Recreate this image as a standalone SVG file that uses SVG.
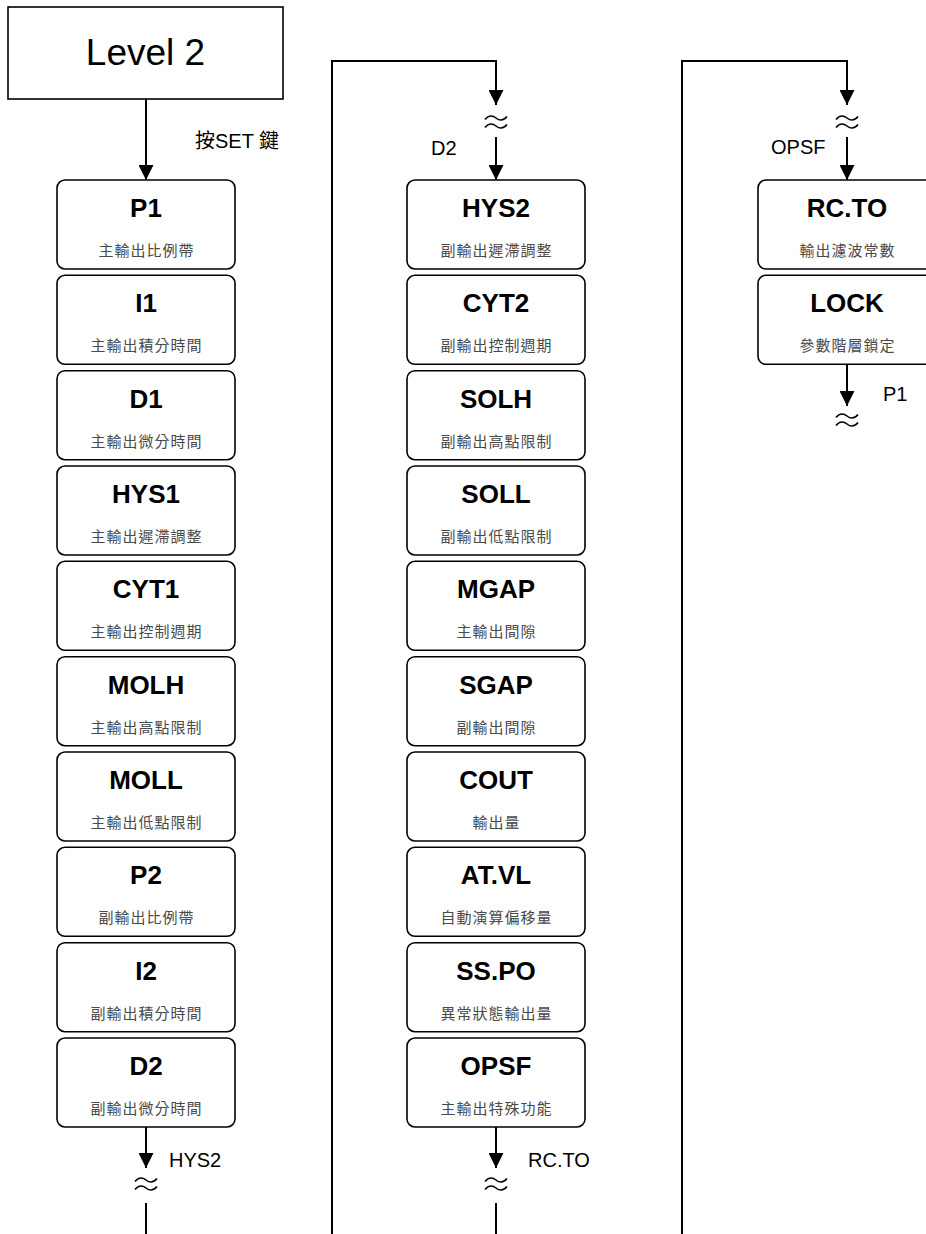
<svg xmlns="http://www.w3.org/2000/svg" width="926" height="1234" viewBox="0 0 926 1234">
<style>
.box{fill:#fff;stroke:#000;stroke-width:1.6}
.t{font-family:"Liberation Sans","Noto Sans CJK TC",sans-serif;font-weight:bold;font-size:26px;fill:#000;text-anchor:middle}
.s{font-family:"Noto Sans CJK TC","Liberation Sans",sans-serif;font-size:15px;letter-spacing:1px;fill:#4a4a4a;text-anchor:middle}
.lbl{font-family:"Liberation Sans","Noto Sans CJK TC",sans-serif;font-size:20px;fill:#000}
.ln{fill:none;stroke:#000;stroke-width:2}
.sq{fill:none;stroke:#000;stroke-width:1.6}
</style>
<defs>
<marker id="ah" markerUnits="userSpaceOnUse" markerWidth="15" markerHeight="15" refX="15" refY="7.5" orient="auto" viewBox="0 0 15 15">
<path d="M0,0 L15,7.5 L0,15 z" fill="#000"/>
</marker>
<path id="tl" d="M-11,1.5 C-7,-3.5 -3,-2.5 0,0 S7,3.5 11,-1.5"/>
</defs>

<g id="connectors">
<path class="ln" d="M146 99 V180" marker-end="url(#ah)"/>
<text class="lbl" x="195" y="148">按SET 鍵</text>

<path class="ln" d="M146 1127 V1168" marker-end="url(#ah)"/>
<use href="#tl" class="sq" x="146" y="1180"/>
<use href="#tl" class="sq" x="146" y="1188"/>
<path class="ln" d="M146 1203 V1234"/>
<text class="lbl" x="169" y="1167">HYS2</text>

<path class="ln" d="M332 1234 V61 H496 V105" marker-end="url(#ah)"/>
<use href="#tl" class="sq" x="496" y="118"/>
<use href="#tl" class="sq" x="496" y="126"/>
<path class="ln" d="M496 137 V180" marker-end="url(#ah)"/>
<text class="lbl" x="431" y="155">D2</text>

<path class="ln" d="M496 1127 V1168" marker-end="url(#ah)"/>
<use href="#tl" class="sq" x="496" y="1180"/>
<use href="#tl" class="sq" x="496" y="1188"/>
<path class="ln" d="M496 1203 V1234"/>
<text class="lbl" x="528" y="1167">RC.TO</text>

<path class="ln" d="M682 1234 V61 H847 V105" marker-end="url(#ah)"/>
<use href="#tl" class="sq" x="847" y="118"/>
<use href="#tl" class="sq" x="847" y="126"/>
<path class="ln" d="M847 137 V180" marker-end="url(#ah)"/>
<text class="lbl" x="771" y="154">OPSF</text>

<path class="ln" d="M847 364 V406" marker-end="url(#ah)"/>
<use href="#tl" class="sq" x="847" y="416"/>
<use href="#tl" class="sq" x="847" y="424"/>
<text class="lbl" x="883" y="401">P1</text>
</g>

<g id="level2">
<rect x="8" y="7" width="275" height="92" fill="#fff" stroke="#000" stroke-width="1.6"/>
<text x="145.5" y="65" font-family="Liberation Sans, sans-serif" font-size="37" text-anchor="middle">Level 2</text>
</g>

<g id="P1"><rect class="box" x="57" y="180" width="178" height="89" rx="8"/><text class="t" x="146" y="217">P1</text><text class="s" x="146.5" y="256">主輸出比例帶</text></g>
<g id="I1"><rect class="box" x="57" y="275.3" width="178" height="89" rx="8"/><text class="t" x="146" y="312.3">I1</text><text class="s" x="146.5" y="351.3">主輸出積分時間</text></g>
<g id="D1"><rect class="box" x="57" y="370.7" width="178" height="89" rx="8"/><text class="t" x="146" y="407.7">D1</text><text class="s" x="146.5" y="446.7">主輸出微分時間</text></g>
<g id="HYS1"><rect class="box" x="57" y="466" width="178" height="89" rx="8"/><text class="t" x="146" y="503">HYS1</text><text class="s" x="146.5" y="542">主輸出遲滯調整</text></g>
<g id="CYT1"><rect class="box" x="57" y="561.3" width="178" height="89" rx="8"/><text class="t" x="146" y="598.3">CYT1</text><text class="s" x="146.5" y="637.3">主輸出控制週期</text></g>
<g id="MOLH"><rect class="box" x="57" y="656.7" width="178" height="89" rx="8"/><text class="t" x="146" y="693.7">MOLH</text><text class="s" x="146.5" y="732.7">主輸出高點限制</text></g>
<g id="MOLL"><rect class="box" x="57" y="752" width="178" height="89" rx="8"/><text class="t" x="146" y="789">MOLL</text><text class="s" x="146.5" y="828">主輸出低點限制</text></g>
<g id="P2"><rect class="box" x="57" y="847.3" width="178" height="89" rx="8"/><text class="t" x="146" y="884.3">P2</text><text class="s" x="146.5" y="923.3">副輸出比例帶</text></g>
<g id="I2"><rect class="box" x="57" y="942.7" width="178" height="89" rx="8"/><text class="t" x="146" y="979.7">I2</text><text class="s" x="146.5" y="1018.7">副輸出積分時間</text></g>
<g id="D2"><rect class="box" x="57" y="1038" width="178" height="89" rx="8"/><text class="t" x="146" y="1075">D2</text><text class="s" x="146.5" y="1114">副輸出微分時間</text></g>

<g id="HYS2"><rect class="box" x="407" y="180" width="178" height="89" rx="8"/><text class="t" x="496" y="217">HYS2</text><text class="s" x="496.5" y="256">副輸出遲滯調整</text></g>
<g id="CYT2"><rect class="box" x="407" y="275.3" width="178" height="89" rx="8"/><text class="t" x="496" y="312.3">CYT2</text><text class="s" x="496.5" y="351.3">副輸出控制週期</text></g>
<g id="SOLH"><rect class="box" x="407" y="370.7" width="178" height="89" rx="8"/><text class="t" x="496" y="407.7">SOLH</text><text class="s" x="496.5" y="446.7">副輸出高點限制</text></g>
<g id="SOLL"><rect class="box" x="407" y="466" width="178" height="89" rx="8"/><text class="t" x="496" y="503">SOLL</text><text class="s" x="496.5" y="542">副輸出低點限制</text></g>
<g id="MGAP"><rect class="box" x="407" y="561.3" width="178" height="89" rx="8"/><text class="t" x="496" y="598.3">MGAP</text><text class="s" x="496.5" y="637.3">主輸出間隙</text></g>
<g id="SGAP"><rect class="box" x="407" y="656.7" width="178" height="89" rx="8"/><text class="t" x="496" y="693.7">SGAP</text><text class="s" x="496.5" y="732.7">副輸出間隙</text></g>
<g id="COUT"><rect class="box" x="407" y="752" width="178" height="89" rx="8"/><text class="t" x="496" y="789">COUT</text><text class="s" x="496.5" y="828">輸出量</text></g>
<g id="ATVL"><rect class="box" x="407" y="847.3" width="178" height="89" rx="8"/><text class="t" x="496" y="884.3">AT.VL</text><text class="s" x="496.5" y="923.3">自動演算偏移量</text></g>
<g id="SSPO"><rect class="box" x="407" y="942.7" width="178" height="89" rx="8"/><text class="t" x="496" y="979.7">SS.PO</text><text class="s" x="496.5" y="1018.7">異常狀態輸出量</text></g>
<g id="OPSF"><rect class="box" x="407" y="1038" width="178" height="89" rx="8"/><text class="t" x="496" y="1075">OPSF</text><text class="s" x="496.5" y="1114">主輸出特殊功能</text></g>

<g id="RCTO"><rect class="box" x="758" y="180" width="178" height="89" rx="8"/><text class="t" x="847" y="217">RC.TO</text><text class="s" x="847.5" y="256">輸出濾波常數</text></g>
<g id="LOCK"><rect class="box" x="758" y="275.3" width="178" height="89" rx="8"/><text class="t" x="847" y="312.3">LOCK</text><text class="s" x="847.5" y="351.3">參數階層鎖定</text></g>
</svg>
